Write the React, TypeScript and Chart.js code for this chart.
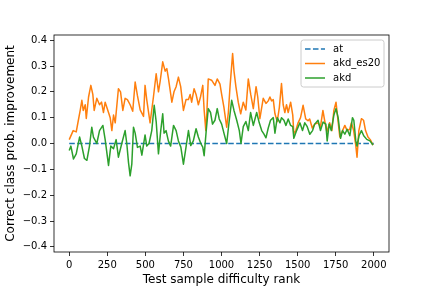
import React, { useEffect, useRef } from "react";
import { Chart, registerables } from "chart.js";

Chart.register(...registerables);

const xTickValues = [0, 250, 500, 750, 1000, 1250, 1500, 1750, 2000];
const yTickValues = [-0.4, -0.3, -0.2, -0.1, 0, 0.1, 0.2, 0.3, 0.4];

const atRanks = [0, 2000];
const atValues = [0, 0];

const es20Ranks = [0, 26, 46, 60, 72, 83, 92, 105, 112, 127, 142, 155, 164, 181, 199, 212, 225, 236, 258, 269, 280, 291, 302, 323, 337, 352, 367, 382, 400, 417, 433, 448, 466, 488, 498, 509, 531, 553, 571, 586, 597, 614, 630, 641, 652, 674, 688, 702, 717, 732, 750, 767, 783, 794, 804, 820, 833, 848, 862, 877, 886, 897, 904, 913, 935, 957, 972, 990, 1001, 1016, 1034, 1045, 1056, 1073, 1082, 1095, 1110, 1126, 1143, 1160, 1176, 1192, 1209, 1227, 1238, 1252, 1274, 1292, 1307, 1318, 1329, 1340, 1351, 1366, 1380, 1394, 1405, 1416, 1427, 1438, 1454, 1468, 1475, 1488, 1503, 1519, 1536, 1553, 1568, 1579, 1596, 1612, 1634, 1650, 1666, 1677, 1692, 1710, 1725, 1738, 1752, 1763, 1777, 1795, 1810, 1825, 1842, 1853, 1868, 1882, 1890, 1902, 1919, 1933, 1946, 1962, 1977, 1995];
const es20Values = [0.015, 0.05, 0.045, 0.09, 0.128, 0.167, 0.128, 0.15, 0.097, 0.18, 0.225, 0.19, 0.128, 0.175, 0.15, 0.16, 0.12, 0.16, 0.12, 0.1, 0.05, 0.11, 0.08, 0.212, 0.2, 0.128, 0.175, 0.17, 0.15, 0.125, 0.238, 0.185, 0.13, 0.105, 0.225, 0.17, 0.08, 0.18, 0.27, 0.2, 0.24, 0.316, 0.28, 0.29, 0.25, 0.16, 0.2, 0.22, 0.257, 0.22, 0.128, 0.17, 0.17, 0.19, 0.16, 0.212, 0.19, 0.15, 0.18, 0.225, 0.13, 0.05, 0.12, 0.25, 0.245, 0.225, 0.25, 0.23, 0.19, 0.14, 0.063, 0.12, 0.22, 0.348, 0.28, 0.218, 0.16, 0.115, 0.16, 0.13, 0.25, 0.19, 0.135, 0.22, 0.18, 0.096, 0.175, 0.155, 0.165, 0.18, 0.165, 0.17, 0.115, 0.085, 0.14, 0.232, 0.15, 0.12, 0.15, 0.12, 0.16, 0.11, 0.038, 0.05, 0.08, 0.1, 0.148, 0.095, 0.088, 0.095, 0.06, 0.075, 0.08, 0.065, 0.128, 0.09, 0.045, 0.08, 0.05, 0.128, 0.16, 0.1, 0.025, 0.05, 0.07, 0.05, 0.055, 0.08, 0.05, -0.008, -0.053, 0.05, 0.096, 0.09, 0.05, 0.025, 0.015, -0.006];

const akdRanks = [0, 11, 28, 46, 68, 83, 100, 116, 133, 148, 159, 181, 199, 221, 236, 258, 273, 291, 308, 323, 345, 367, 378, 389, 400, 411, 422, 433, 448, 466, 477, 498, 509, 524, 542, 558, 571, 586, 601, 614, 623, 636, 651, 666, 685, 702, 717, 733, 750, 767, 783, 798, 815, 833, 848, 864, 877, 886, 899, 913, 928, 941, 957, 972, 985, 1001, 1016, 1034, 1051, 1067, 1082, 1100, 1117, 1128, 1143, 1160, 1176, 1191, 1209, 1231, 1248, 1264, 1279, 1292, 1307, 1322, 1340, 1351, 1366, 1384, 1394, 1410, 1423, 1438, 1454, 1468, 1475, 1493, 1515, 1532, 1547, 1563, 1580, 1598, 1612, 1634, 1650, 1667, 1685, 1694, 1707, 1721, 1738, 1752, 1766, 1782, 1795, 1810, 1825, 1843, 1860, 1869, 1882, 1890, 1903, 1919, 1934, 1954, 1975, 1995];
const akdValues = [-0.027, -0.01, -0.06, -0.04, 0.025, -0.01, -0.058, -0.065, -0.01, 0.063, 0.025, 0, 0.05, 0.07, 0.015, -0.085, -0.01, -0.02, 0.015, -0.053, 0, 0.05, 0, -0.072, -0.125, -0.08, 0.063, 0.04, -0.015, -0.01, -0.045, 0.033, -0.01, 0, 0.05, 0.148, 0.085, -0.04, 0.05, 0.115, 0.04, 0.05, 0.01, -0.01, 0.07, 0.05, 0.01, -0.014, -0.08, -0.014, 0.05, -0.008, 0.01, 0.057, 0.025, 0, -0.014, -0.047, 0.045, 0.135, 0.12, 0.075, 0.09, 0.135, 0.095, 0.075, 0.04, 0, 0.09, 0.167, 0.128, 0.09, 0.05, 0, 0.065, 0.085, 0.05, 0.12, 0.07, 0.12, 0.08, 0.05, 0.036, 0.022, 0.06, 0.09, 0.1, 0.04, 0.1, 0.08, 0.1, 0.09, 0.07, 0.095, 0.07, 0.065, 0.02, 0.05, 0.08, 0.05, 0.08, 0.065, 0.036, 0.05, 0.075, 0.09, 0.05, 0.083, 0.075, 0.01, 0.075, 0.05, 0.11, 0.135, 0.1, 0.02, 0.05, 0.036, 0.055, 0.03, 0.1, 0.09, 0.01, -0.01, 0.03, 0.05, 0.03, 0.016, 0.01, -0.006];

const seriesNames = ["at", "akd_es20", "akd"];
const seriesColors = ["#1f77b4", "#ff7f0e", "#2ca02c"];

const FONT = "'DejaVu Sans', sans-serif";

const toPoints = (xs: number[], ys: number[]) => xs.map((x, i) => ({ x, y: ys[i] }));

const framePlugin = {
  id: "frameAndLegend",
  afterDraw(chart: any) {
    const { ctx, chartArea } = chart;
    const { left, right, top, bottom } = chartArea;
    ctx.save();
    ctx.strokeStyle = "#000";
    ctx.lineWidth = 0.8;
    ctx.strokeRect(left, top, right - left, bottom - top);

    // legend
    const bx = right - 88;
    const by = top + 5;
    const bw = 83;
    const bh = 47;
    const r = 2.5;
    ctx.beginPath();
    ctx.moveTo(bx + r, by);
    ctx.lineTo(bx + bw - r, by);
    ctx.quadraticCurveTo(bx + bw, by, bx + bw, by + r);
    ctx.lineTo(bx + bw, by + bh - r);
    ctx.quadraticCurveTo(bx + bw, by + bh, bx + bw - r, by + bh);
    ctx.lineTo(bx + r, by + bh);
    ctx.quadraticCurveTo(bx, by + bh, bx, by + bh - r);
    ctx.lineTo(bx, by + r);
    ctx.quadraticCurveTo(bx, by, bx + r, by);
    ctx.closePath();
    ctx.fillStyle = "rgba(255,255,255,0.8)";
    ctx.fill();
    ctx.strokeStyle = "#cccccc";
    ctx.lineWidth = 1;
    ctx.stroke();

    ctx.font = `10px ${FONT}`;
    ctx.textBaseline = "middle";
    ctx.textAlign = "left";
    seriesNames.forEach((name, i) => {
      const yy = by + 9 + i * 14.5;
      ctx.beginPath();
      ctx.strokeStyle = seriesColors[i];
      ctx.lineWidth = 1.5;
      ctx.setLineDash(i === 0 ? [5.55, 2.4] : []);
      ctx.moveTo(bx + 4, yy);
      ctx.lineTo(bx + 24, yy);
      ctx.stroke();
      ctx.setLineDash([]);
      ctx.fillStyle = "#000";
      ctx.fillText(name, bx + 32, yy);
    });
    ctx.restore();
  },
};

export default function App() {
  const ref = useRef<HTMLCanvasElement | null>(null);

  useEffect(() => {
    document.body.style.margin = "0";
    if (!ref.current) return;
    const chart = new Chart(ref.current, {
      type: "line",
      data: {
        datasets: [
          {
            label: seriesNames[0],
            data: toPoints(atRanks, atValues),
            borderColor: seriesColors[0],
            borderWidth: 1.5,
            borderDash: [5.55, 2.4],
            pointRadius: 0,
            order: 3,
          },
          {
            label: seriesNames[1],
            data: toPoints(es20Ranks, es20Values),
            borderColor: seriesColors[1],
            borderWidth: 1.5,
            pointRadius: 0,
            borderJoinStyle: "round",
            order: 2,
          },
          {
            label: seriesNames[2],
            data: toPoints(akdRanks, akdValues),
            borderColor: seriesColors[2],
            borderWidth: 1.5,
            pointRadius: 0,
            borderJoinStyle: "round",
            order: 1,
          },
        ],
      },
      options: {
        responsive: false,
        animation: false,
        devicePixelRatio: 1,
        layout: { padding: { top: 35, right: 43, left: 0, bottom: 0 } },
        plugins: { legend: { display: false }, tooltip: { enabled: false } },
        elements: { line: { tension: 0 } },
        scales: {
          x: {
            type: "linear",
            min: -100,
            max: 2100,
            afterFit: (s: any) => {
              s.height = 36;
            },
            afterBuildTicks: (s: any) => {
              s.ticks = xTickValues.map((v) => ({ value: v }));
            },
            ticks: {
              color: "#000",
              font: { family: FONT, size: 10 },
              padding: 3,
              maxRotation: 0,
              autoSkip: false,
              callback: (v: any) => String(v),
            },
            grid: { drawOnChartArea: false, drawTicks: true, tickLength: 4, color: "#000", lineWidth: 0.8 },
            border: { display: false },
            title: {
              display: true,
              text: "Test sample difficulty rank",
              color: "#000",
              font: { family: FONT, size: 12 },
              padding: { top: 0, bottom: 1 },
            },
          },
          y: {
            type: "linear",
            min: -0.42,
            max: 0.42,
            afterFit: (s: any) => {
              s.width = 54;
            },
            afterBuildTicks: (s: any) => {
              s.ticks = yTickValues.map((v) => ({ value: v }));
            },
            ticks: {
              color: "#000",
              font: { family: FONT, size: 10 },
              padding: 3,
              autoSkip: false,
              callback: (v: any) => Number(v).toFixed(1).replace("-", "\u2212"),
            },
            grid: { drawOnChartArea: false, drawTicks: true, tickLength: 4, color: "#000", lineWidth: 0.8 },
            border: { display: false },
            title: {
              display: true,
              text: "Correct class prob. improvement",
              color: "#000",
              font: { family: FONT, size: 12 },
              padding: { top: 4, bottom: 0 },
            },
          },
        },
      },
      plugins: [framePlugin],
    });
    return () => chart.destroy();
  }, []);

  return <canvas ref={ref} width={432} height={288} style={{ display: "block", width: 432, height: 288 }} />;
}
